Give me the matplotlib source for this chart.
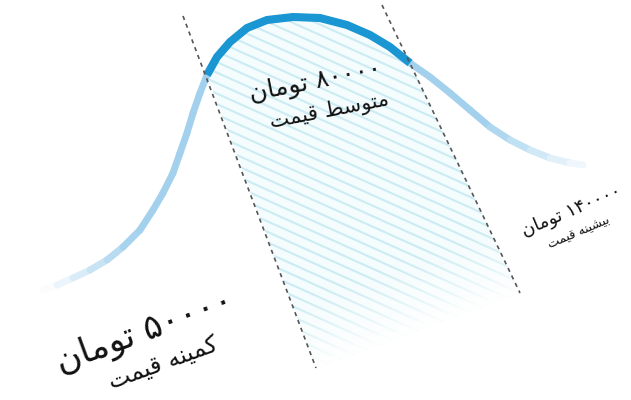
import re
import numpy as np
import matplotlib.pyplot as plt
from matplotlib.collections import LineCollection
from matplotlib.patches import Polygon

# curve (pixel coords, y grows downward)
curve_x = [43, 57, 73, 90, 107, 123, 140, 153, 163, 173, 180, 187, 193, 200, 207,
           217, 230, 247, 267, 293, 320, 347, 370, 390, 410, 430, 450, 470, 490,
           510, 530, 550, 570, 583]
curve_y = [290, 285, 278, 270, 260, 247, 230, 210, 193, 173, 153, 133, 113, 93, 75,
           57, 42, 28, 20, 17, 18, 25, 35, 47, 63, 77, 93, 110, 127,
           140, 150, 158, 163, 165]

# dashed borders of the average band
left_x = [183, 316]
left_y = [16, 368]
right_x = [382, 520]
right_y = [5, 293]

prices = ['۵۰۰۰۰', '۸۰۰۰۰', '۱۴۰۰۰۰']
names = ['کمینه قیمت', 'متوسط قیمت', 'بیشینه قیمت']
unit = 'تومان'

# matplotlib has no arabic shaping, so pick presentation forms by hand
FORMS = {
    'ا': ('\uFE8D', '\uFE8E', None, None),
    'ب': ('\uFE8F', '\uFE90', '\uFE91', '\uFE92'),
    'ت': ('\uFE95', '\uFE96', '\uFE97', '\uFE98'),
    'س': ('\uFEB1', '\uFEB2', '\uFEB3', '\uFEB4'),
    'ش': ('\uFEB5', '\uFEB6', '\uFEB7', '\uFEB8'),
    'ط': ('\uFEC1', '\uFEC2', '\uFEC3', '\uFEC4'),
    'ق': ('\uFED5', '\uFED6', '\uFED7', '\uFED8'),
    'ک': ('\uFB8E', '\uFB8F', '\uFB90', '\uFB91'),
    'م': ('\uFEE1', '\uFEE2', '\uFEE3', '\uFEE4'),
    'ن': ('\uFEE5', '\uFEE6', '\uFEE7', '\uFEE8'),
    'ه': ('\uFEE9', '\uFEEA', '\uFEEB', '\uFEEC'),
    'و': ('\uFEED', '\uFEEE', None, None),
    'ی': ('\uFBFC', '\uFBFD', '\uFBFE', '\uFBFF'),
}


def rtl(text):
    out = []
    for i, ch in enumerate(text):
        if ch not in FORMS:
            out.append(ch)
            continue
        prev = text[i - 1] if i > 0 else ''
        nxt = text[i + 1] if i < len(text) - 1 else ''
        iso, fin, ini, med = FORMS[ch]
        lp = prev in FORMS and FORMS[prev][2] is not None
        ln = nxt in FORMS and ini is not None
        if lp and ln:
            out.append(med)
        elif lp:
            out.append(fin)
        elif ln:
            out.append(ini)
        else:
            out.append(iso)
    vis = ''.join(out)[::-1]
    return re.sub('[۰-۹]+', lambda m: m.group()[::-1], vis)


fig = plt.figure(figsize=(6.31, 4.0), dpi=100)
ax = fig.add_axes([0, 0, 1, 1])

cx = np.array(curve_x, float)
cy = np.array(curve_y, float)

# hatched band between the dashed lines
top = (cx >= 207) & (cx <= 410)
poly_pts = list(zip(cx[top], cy[top])) + [(right_x[1], right_y[1]), (left_x[1], left_y[1])]
band = Polygon(poly_pts, closed=True, facecolor='#f5fcfd', edgecolor='none', zorder=1)
ax.add_patch(band)

for c in np.arange(-130, 245, 10.5):
    xs = np.array([150, 560])
    ln, = ax.plot(xs, 0.45 * xs + c, color='#cbecf2', lw=1.5, zorder=2)
    ln.set_clip_path(band)

# fade the band out towards its lower edge
gx, gy = np.meshgrid(np.arange(631) + 0.5, np.arange(400) + 0.5)
dx, dy = right_x[1] - left_x[1], right_y[1] - left_y[1]
nrm = np.hypot(dx, dy)
dist = ((gx - left_x[1]) * dy - (gy - left_y[1]) * dx) / nrm
fade = np.ones((400, 631, 4))
fade[..., 3] = np.clip(1 - dist / 80, 0, 1) ** 1.5
im = ax.imshow(fade, extent=(0, 631, 400, 0), zorder=3, interpolation='bilinear')
im.set_clip_path(band)

ax.set_xlim(0, 631)
ax.set_ylim(400, 0)
ax.axis('off')

# light tails of the curve, fading into the white background
pts = np.column_stack([cx, cy])
segs = np.stack([pts[:-1], pts[1:]], axis=1)
mid = (cx[:-1] + cx[1:]) / 2
alpha = np.where(mid < 300, np.clip((mid - 45) / 90, 0, 1), np.clip((595 - mid) / 110, 0, 1))
light = np.array([0.64, 0.82, 0.93])
cols = np.ones((len(mid), 4))
cols[:, :3] = 1 - alpha[:, None] * (1 - light)
lc = LineCollection(segs, colors=cols, linewidths=5, capstyle='round',
                    joinstyle='round', zorder=4)
ax.add_collection(lc)

# strong part of the curve inside the band
ax.plot(cx[top], cy[top], color='#1a96d2', lw=5.8, solid_capstyle='butt',
        solid_joinstyle='round', zorder=5)

for xs, ys in [(left_x, left_y), (right_x, right_y)]:
    ln, = ax.plot(xs, ys, color='#555555', lw=1.2, zorder=6)
    ln.set_dashes((2.5, 2.5))

font = ['DejaVu Sans']
# (x, y, angle, size of price line, size of name line, offset of name line)
spots = [(145, 332, 20, 25, 17, (18, 31)),
         (316, 82, 11, 18, 15, (13, 29)),
         (571, 211, 23, 13, 9, (8, 22))]
for (x, y, ang, s1, s2, off), p, n in zip(spots, prices, names):
    ax.text(x, y, rtl(p + ' ' + unit), rotation=ang, rotation_mode='anchor',
            ha='center', va='center', fontsize=s1, color='#111111', family=font, zorder=7)
    ax.text(x + off[0], y + off[1], rtl(n), rotation=ang, rotation_mode='anchor',
            ha='center', va='center', fontsize=s2, color='#111111', family=font, zorder=7)

fig.savefig('out.png', dpi=100, facecolor='white')
